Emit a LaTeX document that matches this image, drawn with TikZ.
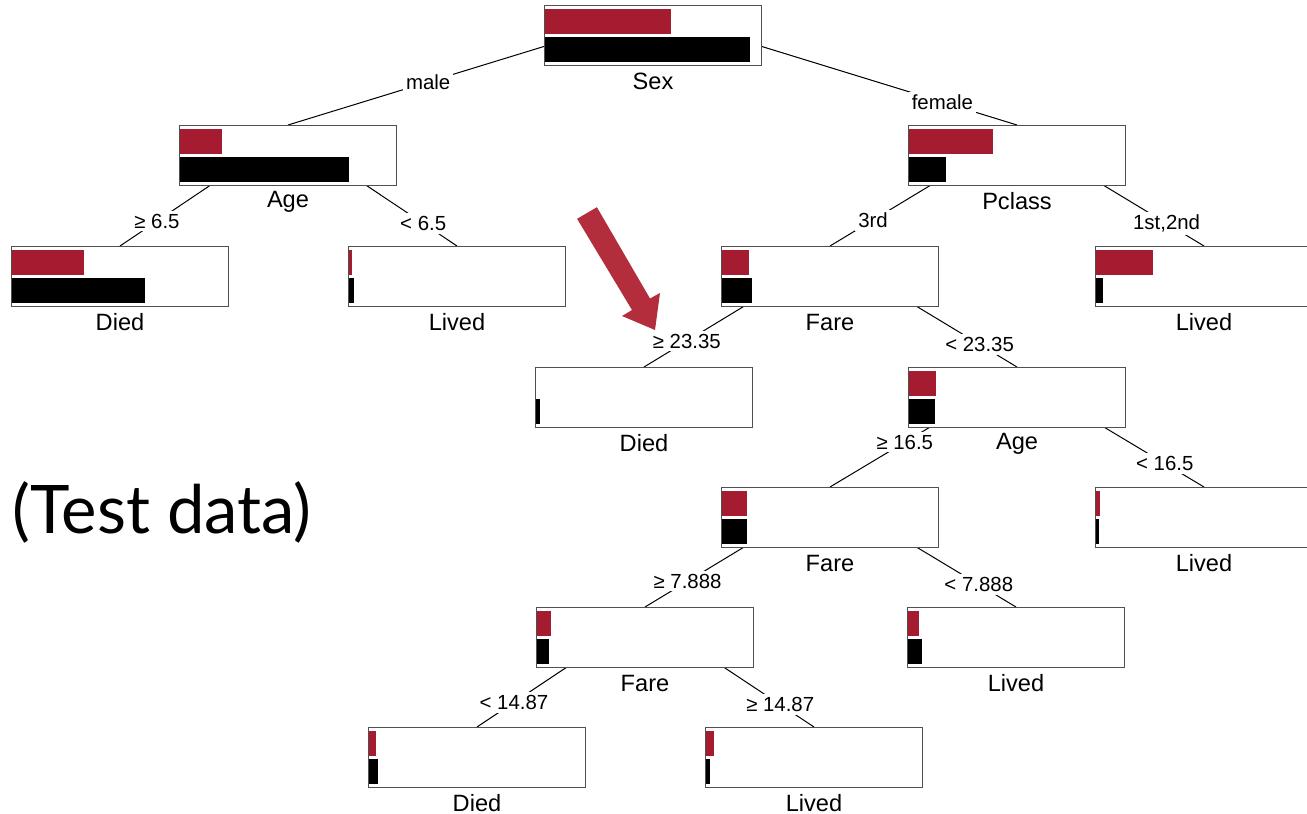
\documentclass[tikz,border=0pt]{standalone}
\usepackage{fontspec}
\setmainfont{Liberation Sans}
\newfontfamily\testfont{Lato}
\usetikzlibrary{calc}
\pgfdeclarelayer{bg}
\pgfsetlayers{bg,main}
\definecolor{crim}{RGB}{165,28,48}
\definecolor{arrowred}{RGB}{180,45,60}
\definecolor{boxline}{RGB}{80,80,80}
\newcommand\treebars[3]{%
  \fill[crim] ($(#1.north west)+(0.5,4)$) rectangle ++(#2,25);
  \fill[black] ($(#1.north west)+(0.5,32)$) rectangle ++(#3,25);}
\begin{document}
\begin{tikzpicture}[x=0.5pt,y=-0.5pt,
  box/.style={draw=boxline,fill=white,line width=0.5pt,minimum width=108.5pt,minimum height=30pt,inner sep=0pt,anchor=north west},
  lab/.style={font=\fontsize{11.8}{13}\selectfont,inner sep=0pt},
  el/.style={font=\fontsize{10.2}{11}\selectfont,fill=white,inner sep=1.5pt},
  edge/.style={line width=0.5pt,black}]
\useasboundingbox (0,0) rectangle (1307,814);
% boxes
\node[box] (sex) at (544,5) {};
\node[box] (age1) at (179,125) {};
\node[box] (died1) at (11,246) {};
\node[box] (lived1) at (348,246) {};
\node[box] (pclass) at (908,125) {};
\node[box] (lived2) at (1095,246) {};
\node[box] (fare1) at (721,246) {};
\node[box] (died2) at (535,367) {};
\node[box] (age2) at (908,367) {};
\node[box] (fare2) at (721,487) {};
\node[box] (lived3) at (1095,487) {};
\node[box] (fare3) at (536,607) {};
\node[box] (lived4) at (907,607) {};
\node[box] (died3) at (368,727) {};
\node[box] (lived5) at (705,727) {};
% bars
\treebars{sex}{126}{205}
\treebars{age1}{42}{169}
\treebars{died1}{72}{133}
\treebars{lived1}{3}{5}
\treebars{pclass}{84}{37}
\treebars{lived2}{57}{7}
\treebars{fare1}{27}{30}
\fill[black] ($(died2.north west)+(0.5,32)$) rectangle ++(4,25);
\treebars{age2}{27}{26}
\treebars{fare2}{25}{25}
\treebars{lived3}{4}{3}
\treebars{fare3}{14}{12}
\treebars{lived4}{11}{14}
\treebars{died3}{7}{9}
\treebars{lived5}{8}{4}
% labels below boxes
\node[lab] (sexl) at ($(sex.south)+(0,15)$) {Sex};
\node[lab] (age1l) at ($(age1.south)+(0,16)$) {Age};
\node[lab] (died1l) at ($(died1.south)+(0,15)$) {Died};
\node[lab] (lived1l) at ($(lived1.south)+(0,15)$) {Lived};
\node[lab] (pclassl) at ($(pclass.south)+(0,15)$) {Pclass};
\node[lab] (lived2l) at ($(lived2.south)+(0,15)$) {Lived};
\node[lab] (fare1l) at ($(fare1.south)+(0,15)$) {Fare};
\node[lab] (died2l) at ($(died2.south)+(0,15)$) {Died};
\node[lab] (age2l) at ($(age2.south)+(0,16)$) {Age};
\node[lab] (fare2l) at ($(fare2.south)+(0,15)$) {Fare};
\node[lab] (lived3l) at ($(lived3.south)+(0,15)$) {Lived};
\node[lab] (fare3l) at ($(fare3.south)+(0,15)$) {Fare};
\node[lab] (lived4l) at ($(lived4.south)+(0,15)$) {Lived};
\node[lab] (died3l) at ($(died3.south)+(0,15)$) {Died};
\node[lab] (lived5l) at ($(lived5.south)+(0,15)$) {Lived};
% edges
\begin{pgfonlayer}{bg}
\draw[edge] ($(sex.north)+(0,8)$) -- node[el,pos=.616]{male} (age1.north);
\draw[edge] ($(sex.north)+(0,8)$) -- node[el,pos=.795]{female} (pclass.north);
\draw[edge] ($(age1.north)+(0,8)$) -- node[el,pos=.78]{≥ 6.5} (died1.north);
\draw[edge] ($(age1.north)+(0,8)$) -- node[el,pos=.80]{< 6.5} (lived1.north);
\draw[edge] ($(pclass.north)+(0,8)$) -- node[el,pos=.77]{3rd} (fare1.north);
\draw[edge] ($(pclass.north)+(0,8)$) -- node[el,pos=.80]{1st,2nd} (lived2.north);
\draw[edge] ($(fare1.north)+(0,8)$) -- node[el,pos=.77]{≥ 23.35} (died2.north);
\draw[edge] ($(fare1.north)+(0,8)$) -- node[el,pos=.80]{< 23.35} (age2.north);
\draw[edge] ($(age2.north)+(0,8)$) -- node[el,pos=.60]{≥ 16.5} (fare2.north);
\draw[edge] ($(age2.north)+(0,8)$) -- node[el,pos=.79]{< 16.5} (lived3.north);
\draw[edge] ($(fare2.north)+(0,8)$) -- node[el,pos=.77]{≥ 7.888} (fare3.north);
\draw[edge] ($(fare2.north)+(0,8)$) -- node[el,pos=.80]{< 7.888} (lived4.north);
\draw[edge] ($(fare3.north)+(0,8)$) -- node[el,pos=.78]{< 14.87} (died3.north);
\draw[edge] ($(fare3.north)+(0,8)$) -- node[el,pos=.80]{≥ 14.87} (lived5.north);
\end{pgfonlayer}
% red arrow
\fill[arrowred] (596.9,207.2) -- (577.1,218.8) -- (632,310) -- (622,316) -- (655,330) -- (660,293) -- (650,298.5) -- cycle;
% test data
\node[font=\testfont\fontsize{33.5}{38}\selectfont,anchor=west,inner sep=0pt] (td) at (12,512) {(Test data)};
\end{tikzpicture}
\end{document}
